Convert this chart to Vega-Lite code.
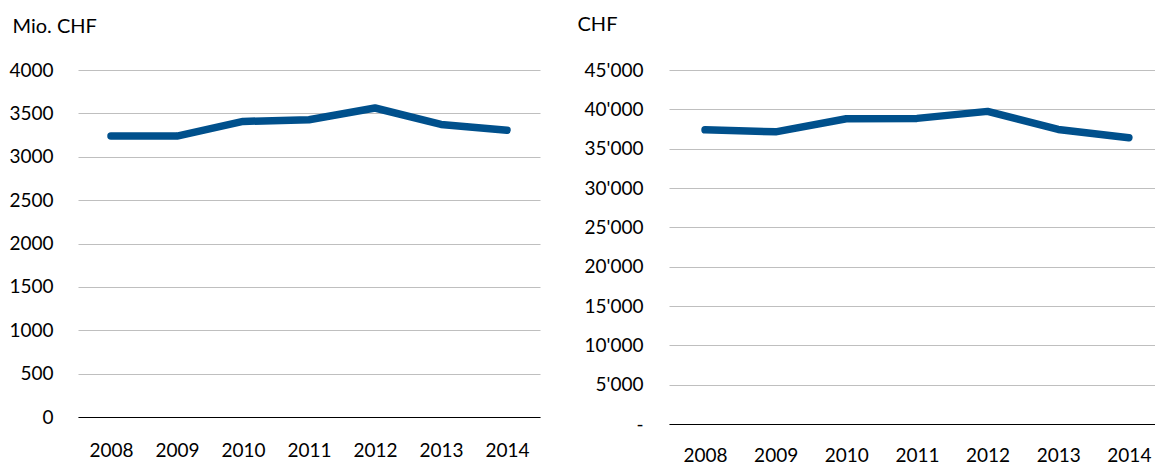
{
  "$schema": "https://vega.github.io/schema/vega-lite/v6.json",
  "padding": {"left": 8, "top": 14, "right": 0, "bottom": 0},
  "background": "white",
  "spacing": 37,
  "config": {
    "view": {"stroke": null},
    "font": "Lato",
    "axis": {
      "labelFont": "Lato",
      "titleFont": "Lato",
      "labelFontSize": 19,
      "titleFontSize": 20,
      "labelColor": "#000000",
      "titleColor": "#000000",
      "titleFontWeight": "normal",
      "ticks": false
    }
  },
  "hconcat": [
    {
      "width": 462,
      "height": 347,
      "data": {
        "values": [
          {"year": "2008", "value": 3240},
          {"year": "2009", "value": 3238},
          {"year": "2010", "value": 3407},
          {"year": "2011", "value": 3426},
          {"year": "2012", "value": 3562},
          {"year": "2013", "value": 3372},
          {"year": "2014", "value": 3306}
        ]
      },
      "mark": {"type": "line", "color": "#00508C", "strokeWidth": 7.5, "strokeCap": "round", "strokeJoin": "round"},
      "encoding": {
        "x": {
          "field": "year", "type": "ordinal",
          "scale": {"type": "point", "padding": 0.5},
          "axis": {"title": null, "labelAngle": 0, "grid": false, "domain": true, "domainColor": "#000000", "domainWidth": 1, "labelPadding": 24}
        },
        "y": {
          "field": "value", "type": "quantitative",
          "scale": {"domain": [0, 4000], "nice": false},
          "axis": {
            "values": [0, 500, 1000, 1500, 2000, 2500, 3000, 3500, 4000],
            "format": "d",
            "title": "Mio. CHF", "titleAngle": 0, "titleX": -66, "titleY": -38,
            "titleAlign": "left", "titleBaseline": "alphabetic",
            "domain": false, "grid": true, "gridColor": "#BFBFBF", "gridWidth": 1,
            "labelPadding": 25
          }
        }
      }
    },
    {
      "width": 486,
      "height": 354,
      "data": {
        "values": [
          {"year": 2008, "value": 37400},
          {"year": 2009, "value": 37140},
          {"year": 2010, "value": 38800},
          {"year": 2011, "value": 38850},
          {"year": 2012, "value": 39740},
          {"year": 2013, "value": 37440},
          {"year": 2014, "value": 36400}
        ]
      },
      "mark": {"type": "line", "color": "#00508C", "strokeWidth": 7.5, "strokeCap": "round", "strokeJoin": "round"},
      "encoding": {
        "x": {
          "field": "year", "type": "quantitative",
          "scale": {"domain": [2007.49, 2014.37], "nice": false, "zero": false},
          "axis": {"title": null, "values": [2008, 2009, 2010, 2011, 2012, 2013, 2014], "format": "d", "labelAngle": 0, "labelFlush": false, "labelOverlap": false, "grid": false, "domain": true, "domainColor": "#000000", "domainWidth": 1, "labelPadding": 22}
        },
        "y": {
          "field": "value", "type": "quantitative",
          "scale": {"domain": [0, 45000], "nice": false},
          "axis": {
            "values": [0, 5000, 10000, 15000, 20000, 25000, 30000, 35000, 40000, 45000],
            "labelExpr": "datum.value == 0 ? '-\u00a0\u00a0\u00a0' : format(datum.value / 1000, 'd') + \"'000\"",
            "title": "CHF", "titleAngle": 0, "titleX": -92, "titleY": -40,
            "titleAlign": "left", "titleBaseline": "alphabetic",
            "domain": false, "grid": true, "gridColor": "#BFBFBF", "gridWidth": 1,
            "labelPadding": 26
          }
        }
      }
    }
  ]
}
